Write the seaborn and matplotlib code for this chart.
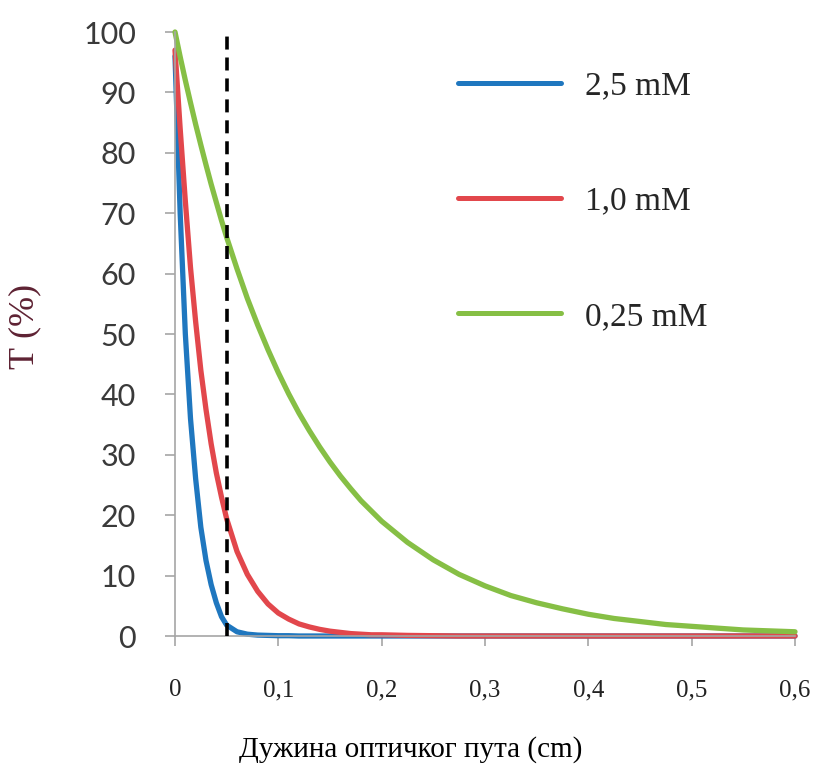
import matplotlib
matplotlib.use("Agg")
import matplotlib.pyplot as plt
from matplotlib.lines import Line2D
import pandas as pd
import seaborn as sns

# optical path length (cm) at which the curves were read
path_cm = [0, 0.005, 0.01, 0.015, 0.02, 0.025, 0.03, 0.035, 0.04, 0.045, 0.05,
           0.06, 0.07, 0.08, 0.09, 0.10, 0.11, 0.12, 0.13, 0.14, 0.15,
           0.16, 0.17, 0.18, 0.19, 0.20, 0.225, 0.25, 0.275, 0.30, 0.325,
           0.35, 0.375, 0.40, 0.425, 0.45, 0.475, 0.50, 0.525, 0.55, 0.575, 0.60]

# transmittance T (%)
t_25mM = [96, 70, 50, 36, 26, 18, 12.5, 8.5, 5.5, 3.2, 1.8,
          0.7, 0.3, 0.15, 0.1, 0.05, 0.05, 0, 0, 0, 0,
          0, 0, 0, 0, 0, 0, 0, 0, 0, 0,
          0, 0, 0, 0, 0, 0, 0, 0, 0, 0, 0]
t_10mM = [97, 84, 72, 61, 52, 44, 37.5, 31.8, 27.0, 23.0, 19.4,
          14.0, 10.2, 7.4, 5.3, 3.8, 2.8, 2.0, 1.5, 1.1, 0.8,
          0.6, 0.4, 0.3, 0.2, 0.2, 0.1, 0.05, 0, 0, 0,
          0, 0, 0, 0, 0, 0, 0, 0, 0, 0, 0]
t_025mM = [100, 95.9, 92.0, 88.3, 84.7, 81.3, 78.0, 74.8, 71.8, 68.8, 66.0,
           60.8, 55.9, 51.5, 47.4, 43.6, 40.1, 36.9, 34.0, 31.3, 28.8,
           26.5, 24.4, 22.4, 20.7, 19.0, 15.5, 12.6, 10.2, 8.3, 6.7,
           5.5, 4.5, 3.6, 2.9, 2.4, 1.9, 1.6, 1.3, 1.0, 0.85, 0.7]

series_labels = ["2,5 mM", "1,0 mM", "0,25 mM"]
series_colors = ["#1f77bf", "#e2474c", "#86bf45"]
cutoff_cm = 0.05

x_ticks = [0, 0.1, 0.2, 0.3, 0.4, 0.5, 0.6]
x_tick_labels = ["0", "0,1", "0,2", "0,3", "0,4", "0,5", "0,6"]
y_ticks = [0, 10, 20, 30, 40, 50, 60, 70, 80, 90, 100]
y_tick_labels = [str(v) for v in y_ticks]

frames = []
for lab, vals in zip(series_labels, [t_25mM, t_10mM, t_025mM]):
    frames.append(pd.DataFrame({"path": path_cm, "T": vals, "conc": lab}))
df = pd.concat(frames, ignore_index=True)

sns.set_style("ticks")
plt.rcParams["font.family"] = ["Liberation Serif", "DejaVu Serif"]

W, H = 823, 767
fig = plt.figure(figsize=(W / 100, H / 100), dpi=100)
ax = fig.add_axes([175 / W, 1 - 636 / H, 620 / W, 604 / H])

sns.lineplot(data=df, x="path", y="T", hue="conc", hue_order=series_labels,
             palette=series_colors, linewidth=3.8, legend=False, ax=ax)
for line in ax.lines:
    line.set_clip_on(False)

ax.axvline(cutoff_cm, ymin=0, ymax=1, color="black", lw=2.6,
           linestyle=(0, (3.6, 2.2)), clip_on=False, zorder=5)

ax.set_xlim(0, 0.6)
ax.set_ylim(0, 100)

ax.set_xticks(x_ticks, x_tick_labels, fontfamily="Liberation Serif",
              fontsize=18, color="#222222")
ax.set_yticks(y_ticks, y_tick_labels, fontfamily="Lato",
              fontsize=22, color="#3a3a3a")
ax.tick_params(axis="x", direction="out", length=7, width=1.2,
               color="#a6a6a6", pad=24)
ax.tick_params(axis="y", direction="out", length=7, width=1.2,
               color="#a6a6a6", pad=21)

sns.despine(ax=ax)
for side in ["left", "bottom"]:
    ax.spines[side].set_color("#a6a6a6")
    ax.spines[side].set_linewidth(1.2)

ax.set_xlabel("Дужина оптичког пута (cm)", fontfamily="Liberation Serif",
              fontsize=21, color="black", va="top")
ax.xaxis.set_label_coords(0.38, -0.165)
ax.set_ylabel("Т (%)", fontfamily="Liberation Serif", fontsize=26,
              color="#5e2233", va="center")
ax.yaxis.set_label_coords(-0.243, 0.513)

handles = [Line2D([], [], color=c, lw=3.6, solid_capstyle="round")
           for c in series_colors]
ax.legend(handles, series_labels, loc="upper left",
          bbox_to_anchor=(458 / W, 1 - 71 / H), bbox_transform=fig.transFigure,
          frameon=False, prop={"family": "Liberation Serif", "size": 24},
          handlelength=3.1, handletextpad=0.7, labelspacing=2.54,
          borderpad=0, borderaxespad=0)

fig.savefig("out.png", dpi=100)
